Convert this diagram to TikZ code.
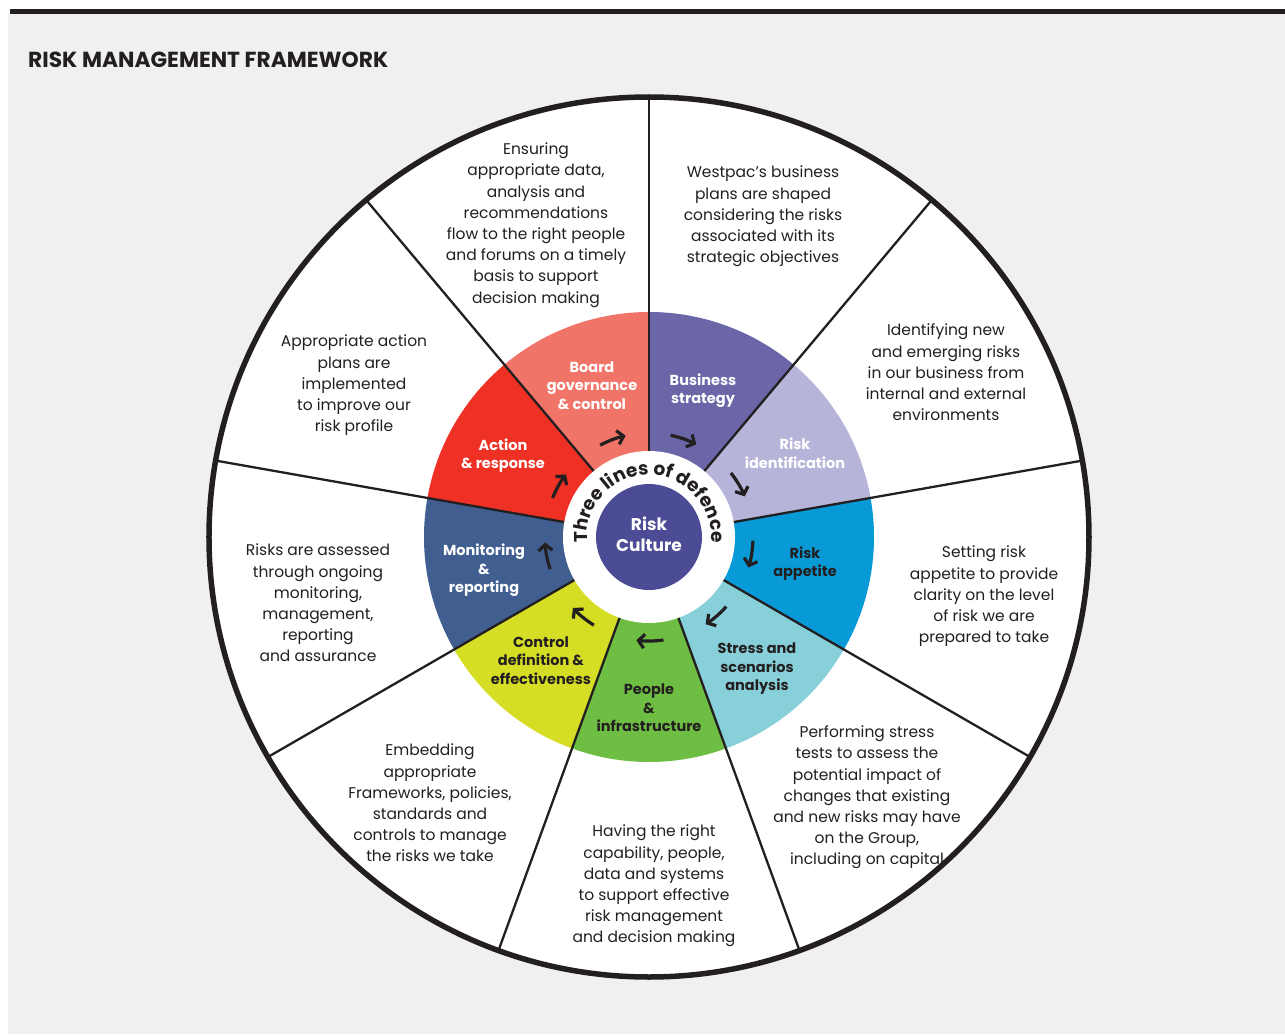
\documentclass[tikz,border=0pt]{standalone}
\usepackage{fontspec}
\setmainfont{Poppins}
\usetikzlibrary{arrows.meta,decorations.text}
\definecolor{PG}{HTML}{F0F0F2}
\definecolor{TX}{HTML}{231F20}
\definecolor{BG}{HTML}{F07468}
\definecolor{BS}{HTML}{6A66A8}
\definecolor{RI}{HTML}{B7B4D9}
\definecolor{RA}{HTML}{089AD7}
\definecolor{SS}{HTML}{87D0DA}
\definecolor{PI}{HTML}{6FBE44}
\definecolor{CD}{HTML}{D5DE24}
\definecolor{MR}{HTML}{405E90}
\definecolor{AR}{HTML}{EE3124}
\definecolor{RC}{HTML}{4C4C96}
\tikzset{
  seglabel/.style={align=center, font=\bfseries\fontsize{14.5}{18.5}\selectfont},
  outertext/.style={align=center, text=TX, font=\fontsize{15.5}{21.2}\selectfont},
  divider/.style={line width=2.3pt, draw=TX},
  flowarrow/.style={line width=3.2pt, draw=TX, -{Straight Barb[length=6pt,width=14pt]}}
}

\begin{document}
\begin{tikzpicture}[x=1pt,y=1pt]
  \useasboundingbox (-649,537) rectangle (636,-497);
  \fill[PG] (-641,523) rectangle (636,-497);
  \fill[TX] (-639,528) rectangle (636,523);
  \node[anchor=base west, inner sep=0pt, text=TX, font=\bfseries\fontsize{21.8}{26}\selectfont]
    (title) at (-621,469) {RISK MANAGEMENT FRAMEWORK};

  \fill[white] (0,0) circle[radius=440];
  \foreach \a/\col in {90/BG,50/BS,10/RI,-30/RA,-70/SS,-110/PI,-150/CD,-190/MR,-230/AR}{
    \fill[\col] (0,0) -- (\a:225) arc[start angle=\a, end angle=\a+40, radius=225] -- cycle;
  }
  \foreach \a in {90,50,...,-230}{
    \draw[divider] (0,0) -- (\a:440);
  }
  \fill[white] (0,0) circle[radius=86];
  \fill[RC] (0,0) circle[radius=53];
  \draw[TX, line width=5.5pt] (0,0) circle[radius=440];

  \foreach \m in {110,70,...,-210}{
    \draw[flowarrow] (\m+8:104) arc[start angle=\m+8, end angle=\m-7, radius=104];
  }

  \path[decorate, decoration={text along path, text align=center,
      text={|\bfseries\fontsize{18.5}{20}\selectfont\color{TX}|Three lines of defence}}]
    (192:62) arc[start angle=192, end angle=-12, radius=62];

  \node[seglabel, text=white, font=\bfseries\fontsize{17}{21}\selectfont] (culture) at (0,3) {Risk\\Culture};

  \node[seglabel, text=white] (board) at (-57,151.5) {Board\\governance\\\& control};
  \node[seglabel, text=white] (strategy) at (54,146.5) {Business\\strategy};
  \node[seglabel, text=white] (identify) at (146,84) {Risk\\identification};
  \node[seglabel, text=TX] (appetite) at (156,-26.5) {Risk\\appetite};
  \node[seglabel, text=TX] (stress) at (108,-132) {Stress and\\scenarios\\analysis};
  \node[seglabel, text=TX] (people) at (0,-171) {People\\\&\\infrastructure};
  \node[seglabel, text=TX] (control) at (-108,-123.5) {Control\\definition \&\\effectiveness};
  \node[seglabel, text=white] (monitor) at (-165,-33.5) {Monitoring\\\&\\reporting};
  \node[seglabel, text=white] (action) at (-146,81.5) {Action\\\& response};

  \node[outertext] (boardtxt) at (-113,312) {Ensuring\\appropriate data,\\analysis and\\recommendations\\flow to the right people\\and forums on a timely\\basis to support\\decision making};
  \node[outertext] (strategytxt) at (114,320.5) {Westpac’s business\\plans are shaped\\considering the risks\\associated with its\\strategic objectives};
  \node[outertext] (identifytxt) at (297,164.5) {Identifying new\\and emerging risks\\in our business from\\internal and external\\environments};
  \node[outertext] (appetitetxt) at (335,-59.5) {Setting risk\\appetite to provide\\clarity on the level\\of risk we are\\prepared to take};
  \node[outertext] (stresstxt) at (218,-260.5) {Performing stress\\tests to assess the\\potential impact of\\changes that existing\\and new risks may have\\on the Group,\\including on capital};
  \node[outertext] (peopletxt) at (5,-349) {Having the right\\capability, people,\\data and systems\\to support effective\\risk management\\and decision making};
  \node[outertext] (controltxt) at (-219,-266) {Embedding\\appropriate\\Frameworks, policies,\\standards and\\controls to manage\\the risks we take};
  \node[outertext] (monitortxt) at (-331,-66) {Risks are assessed\\through ongoing\\monitoring,\\management,\\reporting\\and assurance};
  \node[outertext] (actiontxt) at (-295,151.5) {Appropriate action\\plans are\\implemented\\to improve our\\risk profile};
\end{tikzpicture}
\end{document}
